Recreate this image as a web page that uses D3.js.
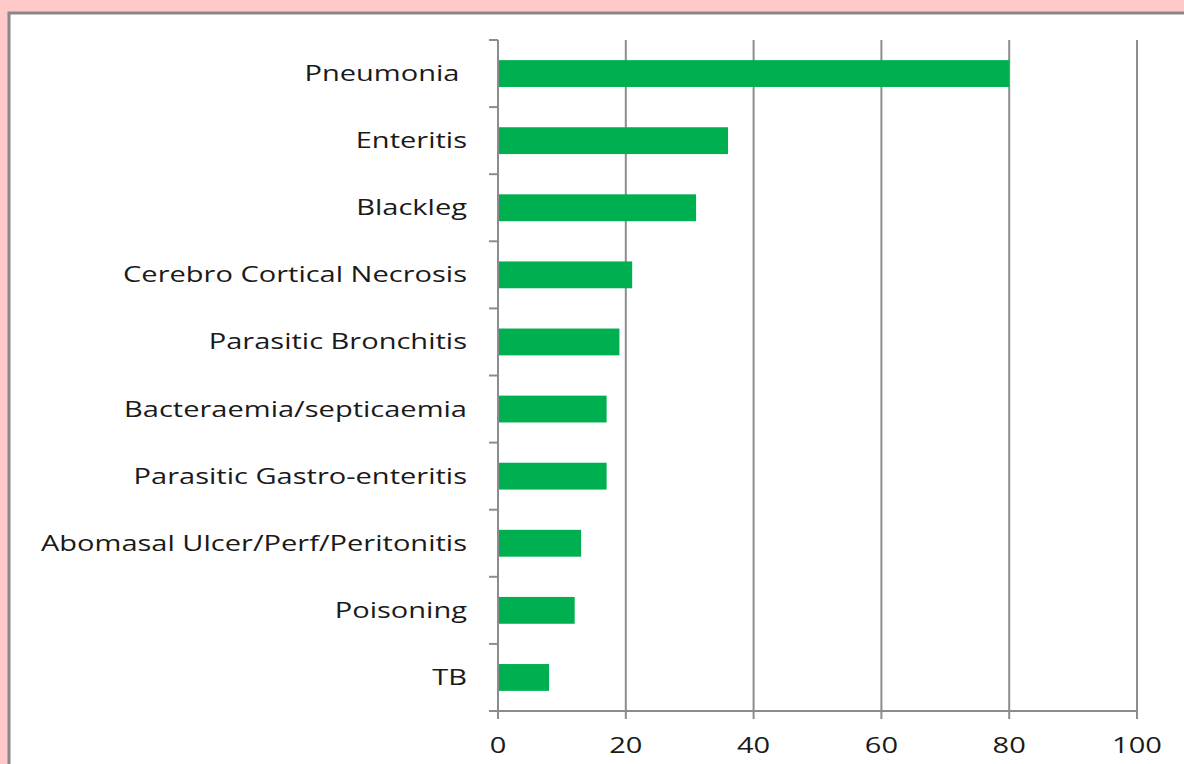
<!DOCTYPE html>
<html><head><meta charset="utf-8">
<script src="https://cdn.jsdelivr.net/npm/d3@7"></script>
<style>
html,body{margin:0;padding:0;background:#ffc9c9;}
svg{display:block;}
text{font-family:"Open Sans",sans-serif;fill:#1a1a1a;white-space:pre;}
</style></head><body>
<svg id="chart" width="1184" height="764"></svg>
<script>
const categories = ["Pneumonia ", "Enteritis", "Blackleg", "Cerebro Cortical Necrosis", "Parasitic Bronchitis",
  "Bacteraemia/septicaemia", "Parasitic Gastro-enteritis", "Abomasal Ulcer/Perf/Peritonitis", "Poisoning", "TB"];
const values = [80, 36, 31, 21, 19, 17, 17, 13, 12, 8];
const xTicks = [0, 20, 40, 60, 80, 100];

const svg = d3.select("#chart");
// panel
svg.append("rect").attr("x", 9).attr("y", 13).attr("width", 1184).attr("height", 800)
  .attr("fill", "#fff").attr("stroke", "#888").attr("stroke-width", 3);

const pLeft = 498, pRight = 1137, pTop = 40, pBottom = 711;
const x = d3.scaleLinear().domain([0, 100]).range([pLeft, pRight]);
const y = d3.scaleBand().domain(categories).range([pTop, pBottom]).paddingInner(0.6).paddingOuter(0.3);
const yb = d3.scaleBand().domain(categories).range([pTop, pBottom]);
const sx = 1.32;

// gridlines
svg.append("g").selectAll("line").data(xTicks.slice(1)).join("line")
  .attr("x1", d => x(d)).attr("x2", d => x(d)).attr("y1", pTop).attr("y2", pBottom)
  .attr("stroke", "#8c8c8c").attr("stroke-width", 2);

// bars
svg.append("g").selectAll("rect").data(values).join("rect")
  .attr("x", x(0)).attr("y", (d, i) => y(categories[i]))
  .attr("width", d => x(d) - x(0)).attr("height", y.bandwidth())
  .attr("fill", "#00b050");

// y axis line and ticks
const g = svg.append("g").attr("stroke", "#8c8c8c").attr("stroke-width", 2);
g.append("line").attr("x1", pLeft).attr("x2", pLeft).attr("y1", pTop).attr("y2", pBottom + 8);
const bounds = categories.map(c => yb(c)).concat([pBottom]);
g.selectAll(".yt").data(bounds).join("line").attr("class", "yt")
  .attr("x1", pLeft - 9).attr("x2", pLeft).attr("y1", d => d).attr("y2", d => d);
// x axis
g.append("line").attr("x1", pLeft - 9).attr("x2", pRight).attr("y1", pBottom).attr("y2", pBottom);
g.selectAll(".xt").data(xTicks).join("line").attr("class", "xt")
  .attr("x1", d => x(d)).attr("x2", d => x(d)).attr("y1", pBottom).attr("y2", pBottom + 8);

// labels
svg.append("g").selectAll("text").data(categories).join("text")
  .attr("transform", d => `translate(467,${yb(d) + yb.bandwidth() / 2 + 7.5}) scale(${sx},1)`)
  .attr("text-anchor", "end").attr("font-size", 22)
  .text(d => d);
svg.append("g").selectAll("text").data(xTicks).join("text")
  .attr("transform", d => `translate(${x(d)},753) scale(${sx},1)`)
  .attr("text-anchor", "middle").attr("font-size", 22)
  .text(d => d);
</script></body></html>
